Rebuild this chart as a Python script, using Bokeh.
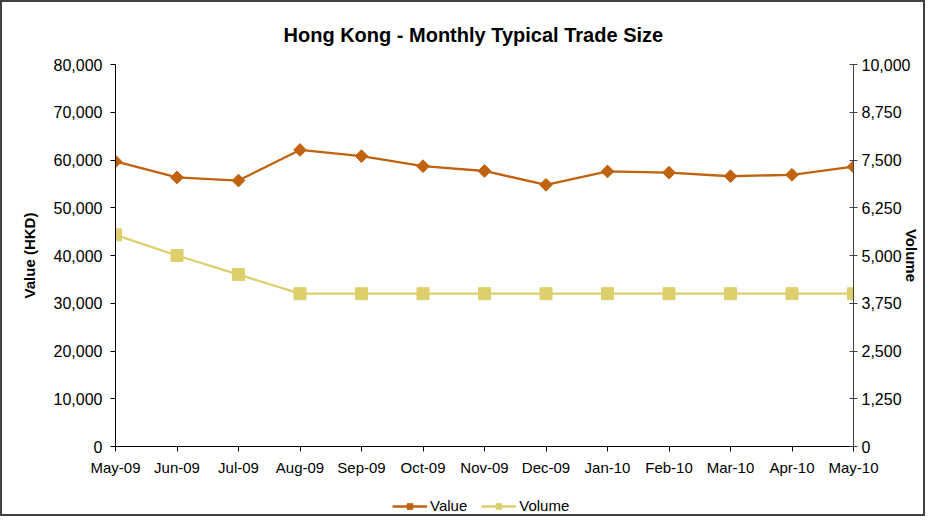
from bokeh.plotting import figure
from bokeh.layouts import column
from bokeh.models import (Range1d, LinearAxis, FixedTicker, NumeralTickFormatter,
                          Legend, LegendItem)
from bokeh.embed import file_html
from bokeh.resources import INLINE

months = ["May-09", "Jun-09", "Jul-09", "Aug-09", "Sep-09", "Oct-09", "Nov-09",
          "Dec-09", "Jan-10", "Feb-10", "Mar-10", "Apr-10", "May-10"]
value_hkd = [59700, 56350, 55700, 62100, 60800, 58700, 57700,
             54800, 57600, 57350, 56600, 56900, 58600]
volume = [5540, 5000, 4500, 4000, 4000, 4000, 4000,
          4000, 4000, 4000, 4000, 4000, 4000]
left_ticks = [0, 10000, 20000, 30000, 40000, 50000, 60000, 70000, 80000]
right_ticks = [0, 1250, 2500, 3750, 5000, 6250, 7500, 8750, 10000]

x = list(range(len(months)))
FONT = "Liberation Sans"
VAL_C = "#C0620E"
VOL_C = "#DDCF6B"

p = figure(width=921, height=476, output_backend="svg", toolbar_location=None,
           x_range=Range1d(0, len(months) - 1), y_range=Range1d(0, 80000),
           min_border_left=113, min_border_right=69, min_border_top=62,
           min_border_bottom=32, x_axis_type=None, y_axis_type=None)
p.outline_line_color = None
p.background_fill_color = "white"
p.border_fill_color = "white"

p.title.text = "Hong Kong - Monthly Typical Trade Size"
p.title.align = "left"
p.title.offset = 168
p.title.standoff = 37
p.title.text_font = FONT
p.title.text_font_size = "20px"
p.title.text_font_style = "bold"
p.title.text_color = "black"

p.extra_y_ranges = {"vol": Range1d(0, 10000)}

# bottom axis
xa = LinearAxis(ticker=FixedTicker(ticks=x),
                major_label_overrides={i: m for i, m in enumerate(months)})
xa.axis_line_color = "black"
xa.major_tick_line_color = "black"
xa.major_tick_out = 5
xa.major_tick_in = 0
xa.minor_tick_line_color = None
xa.major_label_text_font = FONT
xa.major_label_text_font_size = "15px"
xa.major_label_text_color = "black"
xa.major_label_standoff = 7
p.add_layout(xa, "below")

# left axis
ya = LinearAxis(ticker=FixedTicker(ticks=left_ticks),
                formatter=NumeralTickFormatter(format="0,0"),
                axis_label="Value (HKD)")
ya.axis_line_color = "black"
ya.major_tick_line_color = "black"
ya.major_tick_out = 5
ya.major_tick_in = 0
ya.minor_tick_line_color = None
ya.major_label_text_font = FONT
ya.major_label_text_font_size = "16px"
ya.major_label_text_color = "black"
ya.major_label_standoff = 8
ya.axis_label_text_font = FONT
ya.axis_label_text_font_size = "15px"
ya.axis_label_text_font_style = "bold"
ya.axis_label_text_color = "black"
ya.axis_label_standoff = 13
p.add_layout(ya, "left")

# right axis
ra = LinearAxis(y_range_name="vol", ticker=FixedTicker(ticks=right_ticks),
                formatter=NumeralTickFormatter(format="0,0"),
                axis_label="Volume")
ra.axis_line_color = "#404040"
ra.major_tick_line_color = "#404040"
ra.major_tick_out = 4
ra.major_tick_in = 4
ra.minor_tick_line_color = None
ra.major_label_text_font = FONT
ra.major_label_text_font_size = "16px"
ra.major_label_text_color = "black"
ra.major_label_standoff = 4
ra.axis_label_text_font = FONT
ra.axis_label_text_font_size = "15px"
ra.axis_label_text_font_style = "bold"
ra.axis_label_text_color = "black"
ra.axis_label_standoff = -10
p.add_layout(ra, "right")

# grid
p.ygrid.ticker = FixedTicker(ticks=left_ticks[1:])
p.ygrid.grid_line_color = "#C0C0C0"
p.ygrid.grid_line_dash = "46 16"
p.ygrid.grid_line_width = 1
p.xgrid.grid_line_color = None

# series
p.line(x, value_hkd, line_color=VAL_C, line_width=2.3)
p.scatter(x, value_hkd, marker="square", angle=0.785398, size=9,
          fill_color=VAL_C, line_color=VAL_C)
p.line(x, volume, line_color=VOL_C, line_width=2.3, y_range_name="vol")
p.scatter(x, volume, marker="square", size=12, fill_color=VOL_C,
          line_color=VOL_C, y_range_name="vol")

# legend strip below the chart (swatch renderers kept outside the visible range)
q = figure(width=921, height=36, output_backend="svg", toolbar_location=None,
           x_axis_type=None, y_axis_type=None, min_border=0,
           x_range=Range1d(0, 1), y_range=Range1d(0, 1))
q.outline_line_color = None
q.xgrid.grid_line_color = None
q.ygrid.grid_line_color = None
q.border_fill_color = "white"
off = [-5]
ql1 = q.line(off, off, line_color=VAL_C, line_width=2.3)
qs1 = q.scatter(off, off, marker="square", angle=0.785398, size=9,
                fill_color=VAL_C, line_color=VAL_C)
ql2 = q.line(off, off, line_color=VOL_C, line_width=2.3)
qs2 = q.scatter(off, off, marker="square", size=12, fill_color=VOL_C,
                line_color=VOL_C)

legend = Legend(items=[LegendItem(label="Value", renderers=[ql1, qs1]),
                       LegendItem(label="Volume", renderers=[ql2, qs2])],
                orientation="horizontal", location=(277, 0))
legend.border_line_color = None
legend.background_fill_alpha = 0
legend.padding = 0
legend.margin = 0
legend.spacing = 14
legend.glyph_width = 35
legend.glyph_height = 14
legend.label_standoff = 3
legend.label_text_font = FONT
legend.label_text_font_size = "15px"
legend.label_text_color = "black"
q.add_layout(legend, "center")

layout = column(p, q, spacing=0, styles={"border": "2px solid #404040"})

open("out.html", "w").write(file_html(layout, INLINE))
